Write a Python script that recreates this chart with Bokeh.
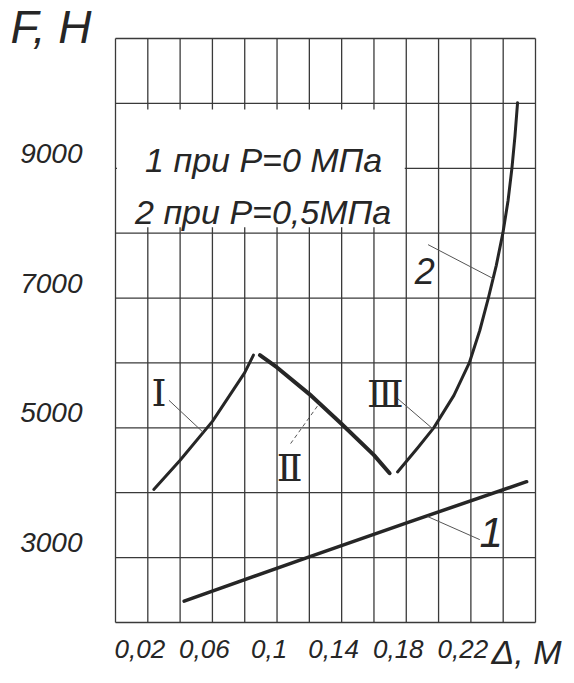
from bokeh.plotting import figure
from bokeh.models import Label, Range1d
from bokeh.embed import file_html
from bokeh.resources import INLINE

# ---- axes / grid ----
x_ticks = [0.02, 0.06, 0.10, 0.14, 0.18, 0.22]
x_tick_labels = ["0,02", "0,06", "0,1", "0,14", "0,18", "0,22"]
y_ticks = [3000, 5000, 7000, 9000]
y_tick_labels = ["3000", "5000", "7000", "9000"]
x_grid = [0.0, 0.02, 0.04, 0.06, 0.08, 0.10, 0.12, 0.14, 0.16, 0.18, 0.20, 0.22, 0.24, 0.26]
y_grid = [2000, 3000, 4000, 5000, 6000, 7000, 8000, 9000, 10000, 11000]

# ---- curve 1 (P = 0 MPa) ----
c1_x = [0.0425, 0.1186, 0.1807, 0.2545]
c1_y = [2330, 3000, 3540, 4170]

# ---- curve 2 (P = 0.5 MPa), stages I, II, III ----
s1_x = [0.0237, 0.04, 0.06, 0.08, 0.0854]
s1_y = [4050, 4500, 5100, 5850, 6120]
s2_x = [0.0894, 0.10, 0.12, 0.14, 0.16, 0.1697]
s2_y = [6120, 5930, 5520, 5060, 4580, 4300]
s3_x = [0.1746, 0.187, 0.197, 0.2095, 0.2190, 0.2255, 0.2308, 0.2357, 0.2398, 0.2430, 0.2454, 0.2473, 0.2489]
s3_y = [4320, 4690, 5000, 5500, 6000, 6500, 7000, 7500, 8000, 8500, 9000, 9500, 10010]

# ---- callout labels and leader lines ----
call_text = ["Ⅰ", "Ⅱ", "Ⅲ", "2", "1"]
call_x = [0.0269, 0.1078, 0.1671, 0.1915, 0.2325]
call_y = [5540, 4386, 5525, 7420, 3386]
lead_x0 = [0.0331, 0.1084, 0.1735, 0.1935, 0.2255]
lead_y0 = [5424, 4757, 5475, 7823, 3277]
lead_x1 = [0.0543, 0.1263, 0.1964, 0.2338, 0.1933]
lead_y1 = [4930, 5380, 4985, 7300, 3632]

legend_lines = ["1 при Р=0 МПа", "2 при Р=0,5МПа"]
x_title = "Δ, M"
y_title = "F, H"

INK = "#262626"
GRID = "#3a3a3a"
FONT = "Liberation Sans"

# plotting area of the original: 420 x 584 px, 115 px from the left, 38 px from the top
W, H = 566, 675
FL, FT, FW, FH = 115, 38, 420, 584
XPX = (x_grid[-1] - x_grid[0]) / FW
YPX = (y_grid[-1] - y_grid[0]) / FH
x0 = x_grid[0] - FL * XPX
x1 = x_grid[-1] + (W - FL - FW) * XPX
y1 = y_grid[-1] + FT * YPX
y0 = y_grid[0] - (H - FT - FH) * YPX

p = figure(width=W, height=H, output_backend="svg", toolbar_location=None,
           x_range=Range1d(x0, x1), y_range=Range1d(y0, y1),
           min_border=0, min_border_left=0, min_border_right=0,
           min_border_top=0, min_border_bottom=0,
           background_fill_color="white", border_fill_color="white")
p.outline_line_color = None
p.xaxis.visible = False
p.yaxis.visible = False
p.xgrid.visible = False
p.ygrid.visible = False

# grid of the chart (its outer lines form the frame)
p.segment(x0=x_grid, x1=x_grid, y0=[y_grid[0]] * len(x_grid), y1=[y_grid[-1]] * len(x_grid),
          line_color=GRID, line_width=1.3)
p.segment(x0=[x_grid[0]] * len(y_grid), x1=[x_grid[-1]] * len(y_grid), y0=y_grid, y1=y_grid,
          line_color=GRID, line_width=1.3)

# white legend panel covering the grid (small stubs stay visible at its edges)
p.quad(left=[x_grid[0] + 1.5 * XPX], right=[x_grid[9] - 1.5 * XPX],
       bottom=[y_grid[6] + 6 * YPX], top=[y_grid[8] - 6 * YPX],
       fill_color="white", line_color=None)

def txt(x, y, text, size, align="left", baseline="middle", font=FONT, style="italic"):
    p.add_layout(Label(x=x, y=y, text=text, text_font=font, text_font_style=style,
                       text_font_size=size, text_color=INK, text_align=align,
                       text_baseline=baseline))

for t, lab in zip(x_ticks, x_tick_labels):
    txt(t - 8 * XPX, y_grid[0] - 26 * YPX, lab, "26px", align="center")
for t, lab in zip(y_ticks, y_tick_labels):
    txt(x_grid[0] - 33 * XPX, t + 15 * YPX, lab, "28px", align="right")

p.line(c1_x, c1_y, line_width=3.5, line_color=INK, line_cap="round")
p.line(s1_x, s1_y, line_width=3, line_color=INK, line_cap="round")
p.line(s2_x, s2_y, line_width=4, line_color=INK, line_cap="round")
p.line(s3_x, s3_y, line_width=3, line_color=INK, line_cap="round", line_join="round")

# leader lines
solid = [0, 2, 3, 4]
p.segment(x0=[lead_x0[i] for i in solid], y0=[lead_y0[i] for i in solid],
          x1=[lead_x1[i] for i in solid], y1=[lead_y1[i] for i in solid],
          line_color="#555555", line_width=1)
p.segment(x0=lead_x0[1:2], y0=lead_y0[1:2], x1=lead_x1[1:2], y1=lead_y1[1:2],
          line_color="#555555", line_width=1, line_dash="4 3")

sizes = ["38px", "38px", "38px", "36px", "42px"]
fonts = ["DejaVu Serif", "DejaVu Serif", "DejaVu Serif", FONT, FONT]
styles = ["normal", "normal", "normal", "italic", "italic"]
for t, x, y, s, f, st in zip(call_text, call_x, call_y, sizes, fonts, styles):
    txt(x, y, t, s, align="center", font=f, style=st)

txt(0.0183, 9130, legend_lines[0], "34px", baseline="alphabetic")
txt(0.0121, 8330, legend_lines[1], "34px", baseline="alphabetic")

# axis titles
txt(x_grid[0] - 105 * XPX, y_grid[-1] + 38 * YPX, y_title, "46px", baseline="top")
txt(x_grid[-1] - 44 * XPX, y_grid[0] - 48 * YPX, x_title, "34px", baseline="bottom")

open("out.html", "w").write(file_html(p, INLINE))
